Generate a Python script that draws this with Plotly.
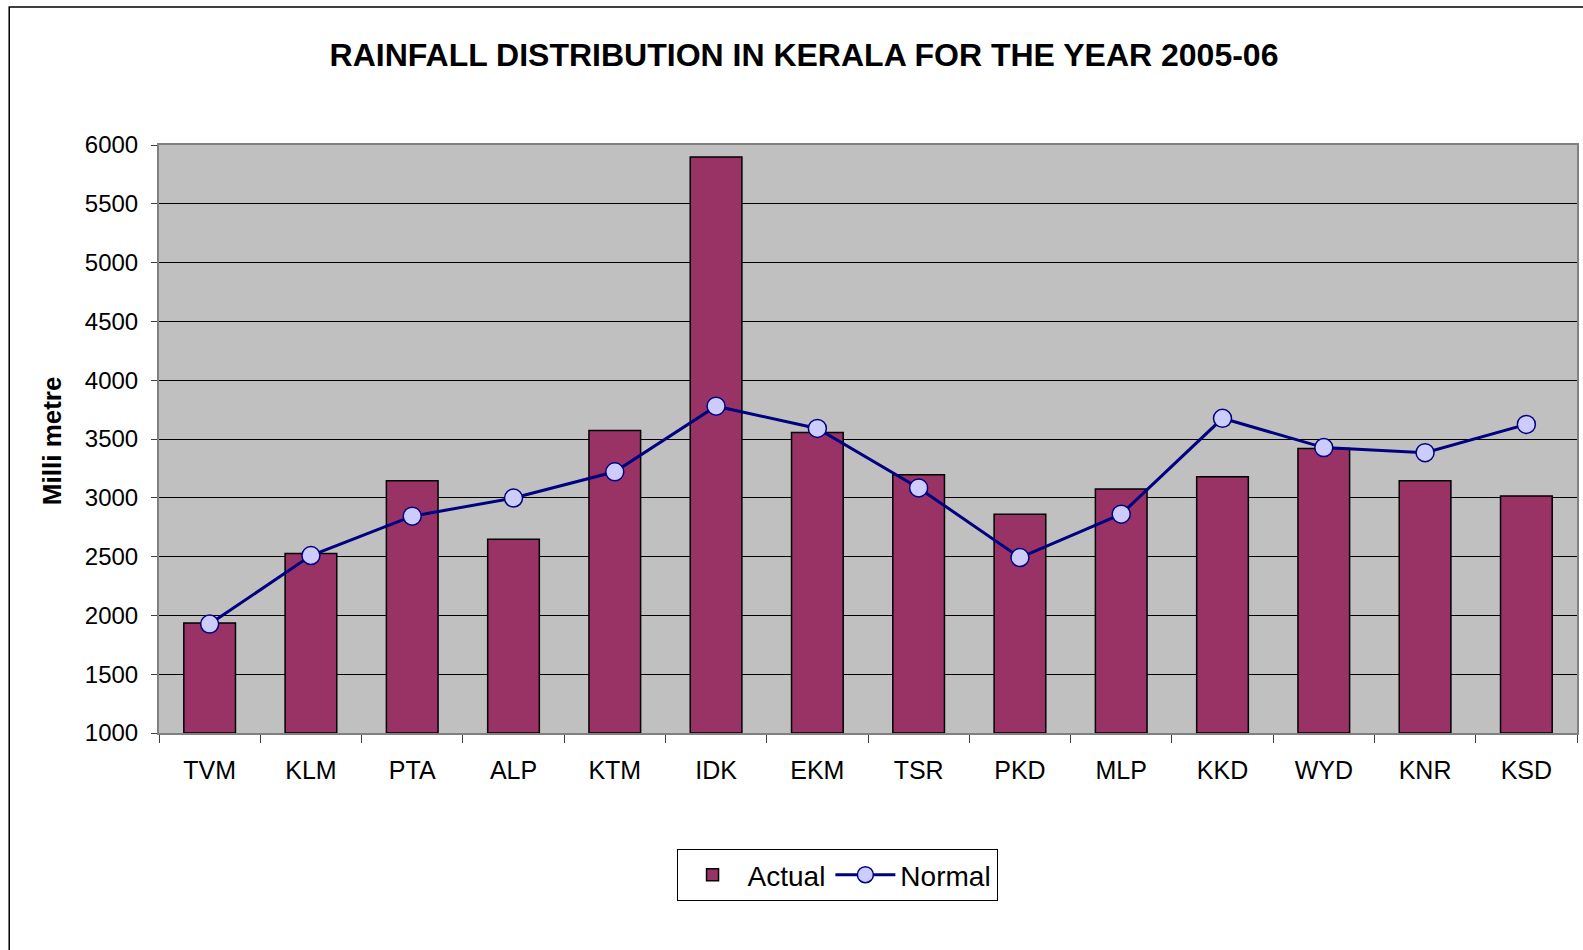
import plotly.graph_objects as go

districts = ["TVM", "KLM", "PTA", "ALP", "KTM", "IDK", "EKM", "TSR", "PKD", "MLP", "KKD", "WYD", "KNR", "KSD"]
actual = [1935, 2527, 3144, 2647, 3573, 5897, 3556, 3196, 2861, 3075, 3178, 3419, 3144, 3015]
normal = [1926, 2509, 2844, 2998, 3221, 3779, 3590, 3084, 2492, 2861, 3676, 3427, 3384, 3624]
y_ticks = [1000, 1500, 2000, 2500, 3000, 3500, 4000, 4500, 5000, 5500, 6000]

W, H = 1583, 950
L, R, T, B = 159, 1579, 145, 733

fig = go.Figure()
fig.add_trace(go.Bar(
    x=districts, y=[a - 1000 for a in actual], base=1000, name="Actual",
    marker=dict(color="#993366", line=dict(color="black", width=1.5)),
))
fig.add_trace(go.Scatter(
    x=districts, y=normal, name="Normal", mode="lines+markers",
    line=dict(color="#000080", width=3),
    marker=dict(size=18, color="#CCCCFF", line=dict(color="#000080", width=1.5)),
))

fig.update_layout(
    width=W, height=H,
    margin=dict(l=L, r=W - R, t=T, b=H - B),
    paper_bgcolor="white", plot_bgcolor="#C0C0C0",
    font=dict(family="Liberation Sans, Arial, sans-serif", color="black", size=24),
    title=dict(text="<b>RAINFALL DISTRIBUTION IN KERALA FOR THE YEAR 2005-06</b>",
               x=804 / W, xanchor="center", y=1 - 55 / H, yanchor="middle",
               font=dict(size=32, color="black")),
    bargap=0.49,
    showlegend=True,
    legend=dict(orientation="h", x=(838 - L) / (R - L), xanchor="center",
                y=(B - 849) / (B - T), yanchor="top",
                bordercolor="black", borderwidth=1, bgcolor="white",
                font=dict(size=28), itemwidth=60, traceorder="normal"),
    xaxis=dict(range=[-0.5, len(districts) - 0.5], showgrid=False, ticks="outside",
               ticklen=8, tickcolor="#404040", ticklabelstandoff=14,
               tickson="boundaries", showline=True, linecolor="#808080", linewidth=2,
               mirror=True, tickfont=dict(size=25)),
    yaxis=dict(range=[1000, 6000], tickvals=y_ticks, showgrid=True, gridcolor="black",
               gridwidth=1, ticks="outside", ticklen=6, tickcolor="#404040",
               ticklabelstandoff=8,
               showline=True, linecolor="#808080", linewidth=2, mirror=True,
               tickfont=dict(size=24), zeroline=False),
)

fig.add_annotation(text="<b>Milli metre</b>", textangle=-90, xref="paper", yref="paper",
                   x=(52 - L) / (R - L), y=(B - 441) / (B - T), showarrow=False,
                   font=dict(size=26), xanchor="center", yanchor="middle")

fig.add_shape(type="rect", xref="paper", yref="paper",
              x0=(9 - L) / (R - L), x1=(W + 20 - L) / (R - L),
              y0=(B - (H + 20)) / (B - T), y1=(B - 7) / (B - T),
              line=dict(color="black", width=1.5), fillcolor="rgba(0,0,0,0)", layer="below")

fig.write_html("out.html", config={"displayModeBar": False},
               post_script="document.body.style.margin='0';document.body.style.overflow='hidden';")
